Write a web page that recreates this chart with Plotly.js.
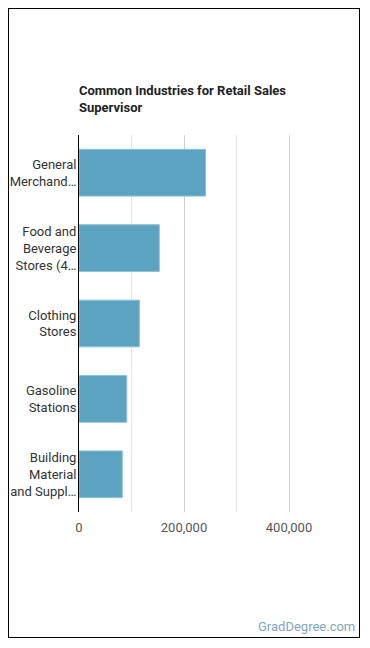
<!DOCTYPE html>
<html>
<head>
<meta charset="utf-8">
<script src="https://cdn.plot.ly/plotly-3.0.1.min.js"></script>
<style>
  html, body { margin: 0; padding: 0; background: #fff; }
  #frame { position: absolute; left: 8px; top: 8px; width: 350px; height: 628px; border: 1px solid #000; }
  #chart { width: 350px; height: 628px; }
</style>
</head>
<body>
<div id="frame"><div id="chart"></div></div>
<script>
// Industries employing retail sales supervisors (top to bottom)
const industries = [
  "General<br>Merchand\u2026",
  "Food and<br>Beverage<br>Stores (4\u2026",
  "Clothing<br>Stores",
  "Gasoline<br>Stations",
  "Building<br>Material<br>and Suppl\u2026"
];
const workers = [241000, 153000, 115000, 91000, 82500];
const xTickValues = [0, 200000, 400000];
const xTickLabels = ["0", "200,000", "400,000"];

const trace = {
  type: "bar",
  orientation: "h",
  y: industries,
  x: workers,
  marker: { color: "#5ba3c0", line: { color: "#8cc2d6", width: 1 } },
  hoverinfo: "none"
};

const layout = {
  width: 350,
  height: 628,
  margin: { l: 70, r: 28, t: 126, b: 125 },
  paper_bgcolor: "#fff",
  plot_bgcolor: "#fff",
  font: { family: "Roboto, sans-serif", color: "#333" },
  bargap: 0.38,
  showlegend: false,
  title: {
    text: "<b>Common Industries for Retail Sales<br>Supervisor</b>",
    font: { family: "Roboto, sans-serif", size: 13, color: "#222" },
    x: 0, xref: "paper", xanchor: "left",
    y: 0.863, yref: "container", yanchor: "top"
  },
  xaxis: {
    range: [0, 480000],
    tickvals: xTickValues,
    ticktext: xTickLabels,
    showgrid: true,
    gridcolor: "#cfcfcf",
    gridwidth: 1,
    zeroline: false,
    showline: false,
    ticks: "",
    ticklabelstandoff: 6,
    tickfont: { size: 13, color: "#555" },
    minor: { dtick: 100000, tick0: 0, showgrid: true, gridcolor: "#e6e6e6", gridwidth: 1 },
    fixedrange: true
  },
  yaxis: {
    autorange: "reversed",
    showline: true,
    linecolor: "#000",
    linewidth: 1,
    ticks: "",
    ticklabelstandoff: -1,
    tickfont: { size: 13, color: "#333" },
    showgrid: false,
    fixedrange: true
  },
  annotations: [{
    text: "GradDegree.com",
    xref: "paper", yref: "paper",
    x: 1.103, y: -0.303,
    xanchor: "right", yanchor: "middle",
    showarrow: false,
    font: { family: "Roboto, sans-serif", size: 13, color: "#7fa6bd" }
  }]
};

Plotly.newPlot("chart", [trace], layout, { displayModeBar: false, staticPlot: true });
</script>
</body>
</html>
